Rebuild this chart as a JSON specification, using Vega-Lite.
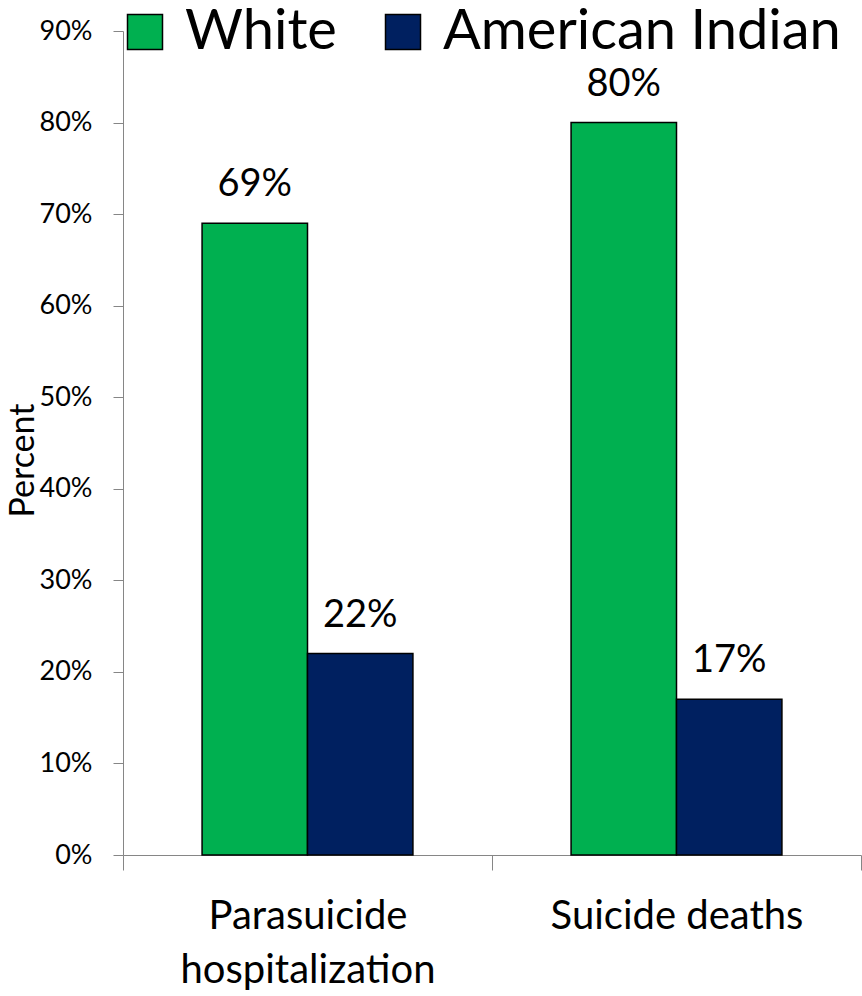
{
  "$schema": "https://vega.github.io/schema/vega-lite/v6.json",
  "autosize": "none",
  "width": 738,
  "height": 824,
  "padding": {"left": 123, "top": 31, "right": 1, "bottom": 141},
  "background": "white",
  "config": {"view": {"stroke": null}, "font": "Lato"},
  "data": {
    "values": [
      {"category": "Parasuicide hospitalization", "group": "White", "value": 0.69},
      {"category": "Parasuicide hospitalization", "group": "American Indian", "value": 0.22},
      {"category": "Suicide deaths", "group": "White", "value": 0.80},
      {"category": "Suicide deaths", "group": "American Indian", "value": 0.17}
    ]
  },
  "encoding": {
    "x": {
      "field": "category", "type": "nominal", "sort": null,
      "scale": {"paddingInner": 0, "paddingOuter": 0},
      "axis": {
        "title": null, "labelAngle": 0, "domainColor": "#868686", "tickColor": "#868686",
        "tickBand": "extent", "tickSize": 15, "labelFontSize": 40, "labelColor": "black",
        "labelPadding": 26, "labelLineHeight": 54, "labelBaseline": "top", "labelLimit": 600,
        "labelExpr": "datum.value == 'Parasuicide hospitalization' ? ['Parasuicide', 'hospitalization'] : datum.value"
      }
    },
    "xOffset": {"field": "group", "type": "nominal", "sort": ["White", "American Indian"], "scale": {"paddingOuter": 0.75, "paddingInner": 0}},
    "y": {
      "field": "value", "type": "quantitative",
      "scale": {"domain": [0, 0.9], "nice": false},
      "axis": {
        "title": "Percent", "titleFontSize": 34, "titleFontWeight": "normal", "titleColor": "black",
        "titleX": -100, "titleY": 429, "titleAngle": -90, "titleBaseline": "middle", "titleAlign": "center",
        "format": ".0%", "values": [0, 0.1, 0.2, 0.3, 0.4, 0.5, 0.6, 0.7, 0.8, 0.9],
        "grid": false, "domainColor": "#868686", "tickColor": "#868686", "tickSize": 10,
        "labelFontSize": 27, "labelColor": "black", "labelPadding": 21
      }
    }
  },
  "layer": [
    {
      "mark": {"type": "bar", "stroke": "black", "strokeWidth": 1.5},
      "encoding": {
        "color": {
          "field": "group", "type": "nominal", "sort": ["White", "American Indian"],
          "scale": {"domain": ["White", "American Indian"], "range": ["#00B050", "#002060"]},
          "legend": {
            "title": null, "orient": "none", "direction": "horizontal",
            "legendX": -6, "legendY": -27,
            "symbolType": "square", "symbolSize": 1225, "symbolStrokeColor": "black", "symbolStrokeWidth": 1.5,
            "labelFontSize": 56, "labelColor": "black", "labelOffset": 12, "columnPadding": 38,
            "labelLimit": 600
          }
        }
      }
    },
    {
      "mark": {"type": "text", "dy": -38, "fontSize": 38, "color": "black"},
      "encoding": {"text": {"field": "value", "type": "quantitative", "format": ".0%"}}
    }
  ]
}
